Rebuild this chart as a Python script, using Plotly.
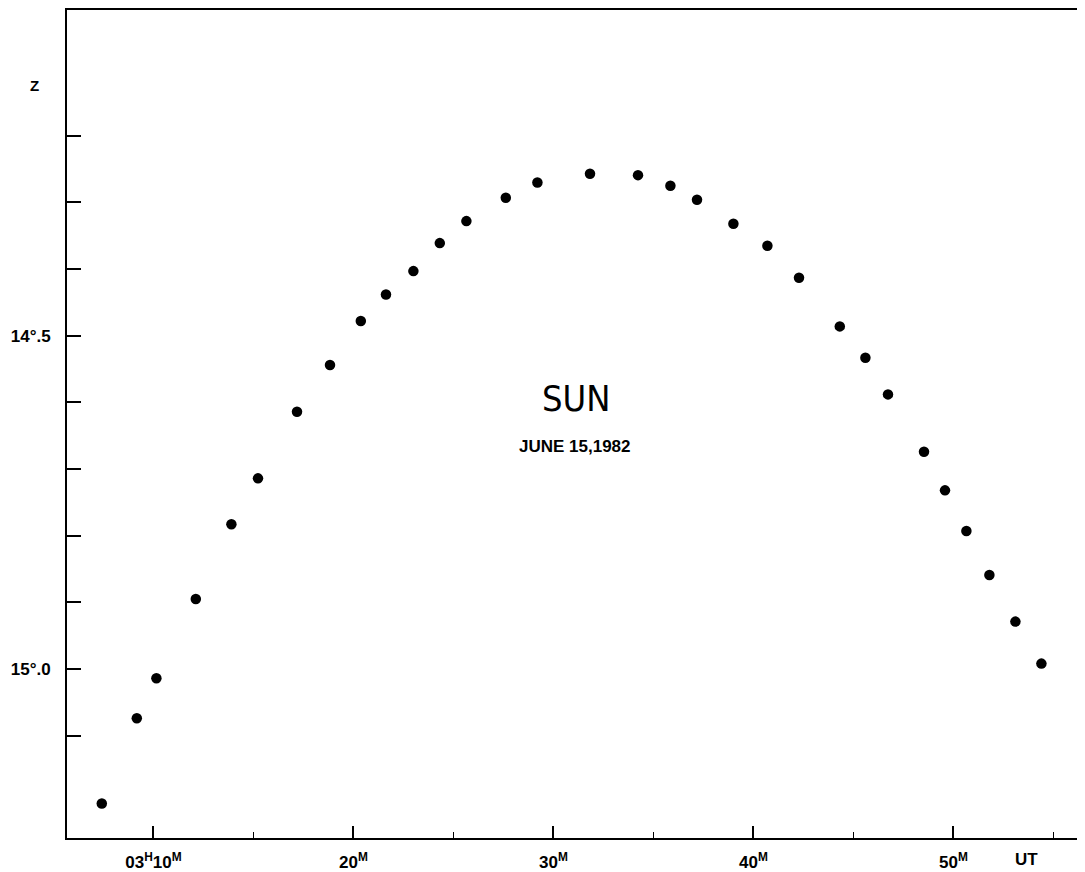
import plotly.graph_objects as go

# Observation times (minutes after 03h UT) and zenith distance Z (degrees)
minutes = [7.42, 9.17, 10.15, 12.12, 13.90, 15.23, 17.18, 18.83, 20.37, 21.63,
           23.00, 24.32, 25.65, 27.62, 29.20, 31.83, 34.23, 35.85, 37.18, 39.00,
           40.70, 42.28, 44.32, 45.60, 46.73, 48.53, 49.58, 50.65, 51.80, 53.10,
           54.40]
zenith = [15.202, 15.074, 15.014, 14.895, 14.783, 14.714, 14.614, 14.544, 14.478, 14.438,
          14.403, 14.361, 14.328, 14.293, 14.270, 14.257, 14.259, 14.275, 14.296, 14.332,
          14.365, 14.413, 14.486, 14.533, 14.588, 14.674, 14.732, 14.793, 14.859, 14.929,
          14.992]

x_tickvals = [10, 20, 30, 40, 50]
x_ticktext = ["<b>03<sup>H</sup>10<sup>M</sup></b>", "<b>20<sup>M</sup></b>",
              "<b>30<sup>M</sup></b>", "<b>40<sup>M</sup></b>", "<b>50<sup>M</sup></b>"]
y_tickvals = [14.2, 14.3, 14.4, 14.5, 14.6, 14.7, 14.8, 14.9, 15.0, 15.1]
y_ticktext = [" ", " ", " ", "<b>14°.5</b>", " ", " ", " ", " ", "<b>15°.0</b>", " "]

x_range = [5.68, 56.33]
y_range = [15.2537, 14.0112]

fig = go.Figure()
fig.add_trace(go.Scatter(
    x=minutes, y=zenith, mode="markers",
    marker=dict(size=10.5, color="black", symbol="circle"),
    showlegend=False, hoverinfo="skip"))

tickfont = dict(family="Liberation Sans, Arial, sans-serif", size=17, color="black")

fig.update_layout(
    width=1077, height=864, autosize=False,
    margin=dict(l=59, r=5, t=0, b=34),
    paper_bgcolor="white", plot_bgcolor="white",
    xaxis=dict(range=x_range, tickmode="array", tickvals=x_tickvals, ticktext=x_ticktext,
               ticks="inside", ticklen=12, tickwidth=1.5, tickcolor="black",
               showline=True, linecolor="black", linewidth=1.5, mirror=True,
               showgrid=False, zeroline=False, tickfont=tickfont,
               ticklabelstandoff=8,
               minor=dict(tickmode="linear", tick0=0, dtick=5, ticks="inside",
                          ticklen=6, tickwidth=1.2, tickcolor="black", showgrid=False)),
    yaxis=dict(range=y_range, tickmode="array", tickvals=y_tickvals, ticktext=y_ticktext,
               ticks="inside", ticklen=14, tickwidth=1.5, tickcolor="black",
               showline=True, linecolor="black", linewidth=1.8, mirror=True,
               showgrid=False, zeroline=False, tickfont=tickfont,
               ticklabelstandoff=11),
    annotations=[
        dict(text="<b>Z</b>", xref="paper", yref="paper", x=-0.0385, y=0.922,
             showarrow=False, font=dict(family="Liberation Sans, Arial, sans-serif",
                                        size=15, color="black")),
        dict(text="<b>UT</b>", xref="paper", yref="paper", x=0.9605, y=-0.0265,
             yanchor="middle", showarrow=False,
             font=dict(family="Liberation Sans, Arial, sans-serif", size=17, color="black")),
        dict(text="SUN", xref="paper", yref="paper", x=0.5025, y=0.5313,
             showarrow=False,
             font=dict(family="Liberation Sans Narrow, DejaVu Sans Condensed, sans-serif",
                       size=36, color="black")),
        dict(text="<b>JUNE 15,1982</b>", xref="paper", yref="paper", x=0.5015, y=0.4723,
             showarrow=False,
             font=dict(family="Liberation Sans, Arial, sans-serif", size=17, color="black")),
    ],
)

fig.write_html("out.html")
